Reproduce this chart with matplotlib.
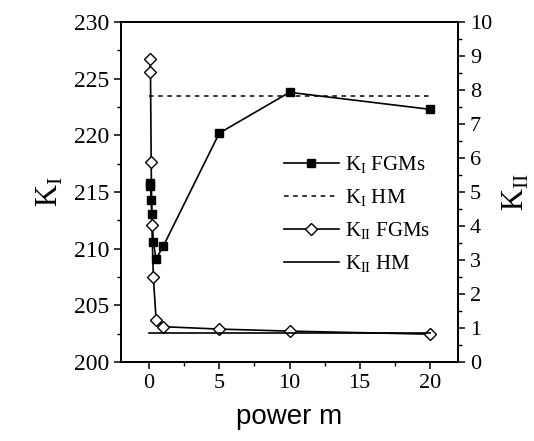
import numpy as np
import matplotlib
matplotlib.use("Agg")
import matplotlib.pyplot as plt
from matplotlib.ticker import MultipleLocator

# данные
power_m = [0.05, 0.1, 0.15, 0.2, 0.3, 0.5, 1, 5, 10, 20]
k1_fgm = [215.8, 215.5, 214.3, 213.1, 210.6, 209.1, 210.2, 220.2, 223.8, 222.3]
k2_fgm = [8.9, 8.54, 5.88, 4.03, 2.51, 1.25, 1.04, 0.97, 0.91, 0.82]
hm_x = [0, 20]
k1_hm = [223.5, 223.5]
k2_hm = [0.86, 0.86]

plt.rcParams['font.family'] = ['Liberation Serif', 'DejaVu Serif']
plt.rcParams['mathtext.fontset'] = 'custom'
plt.rcParams['mathtext.rm'] = 'Liberation Serif'

fig = plt.figure(figsize=(5.34, 4.41), dpi=100)
ax = fig.add_axes([0.2266, 0.179, 0.6311, 0.771])
ax2 = ax.twinx()

l1, = ax.plot(power_m, k1_fgm, color='black', lw=1.2, marker='s', ms=6,
              mfc='black', label=r'K$_\mathregular{I}$ FGMs')
l2, = ax.plot(hm_x, k1_hm, color='black', lw=1.1, ls=(0, (3, 3)),
              label=r'K$_\mathregular{I}$ HM')
l3, = ax2.plot(power_m, k2_fgm, color='black', lw=1.2, marker='D', ms=6,
               mfc='white', mew=1.0, label=r'K$_\mathregular{II}$ FGMs')
l4, = ax2.plot(hm_x, k2_hm, color='black', lw=1.2,
               label=r'K$_\mathregular{II}$ HM')

ax.set_xlim(-2, 22)
ax.set_ylim(200, 230)
ax2.set_ylim(0, 10)

ax.xaxis.set_major_locator(MultipleLocator(5))
ax.xaxis.set_minor_locator(MultipleLocator(2.5))
ax.yaxis.set_major_locator(MultipleLocator(5))
ax.yaxis.set_minor_locator(MultipleLocator(2.5))
ax2.yaxis.set_major_locator(MultipleLocator(1))
ax2.yaxis.set_minor_locator(MultipleLocator(0.5))

for a in (ax, ax2):
    a.tick_params(which='major', direction='out', length=5, width=1.1,
                  labelsize=16)
    a.tick_params(which='minor', direction='out', length=3, width=1.0)
    for s in a.spines.values():
        s.set_linewidth(1.3)
ax.tick_params(axis='y', labelsize=17)

ax.set_ylabel(r'K$_\mathregular{I}$', fontsize=22, labelpad=6)
ax2.set_ylabel(r'K$_\mathregular{II}$', fontsize=22, labelpad=6)
ax.set_xlabel('power m', fontsize=20, family='Liberation Sans', labelpad=8)

ax.legend(handles=[l1, l2, l3, l4], loc='upper left',
          bbox_to_anchor=(0.46, 0.635), frameon=False, fontsize=15,
          numpoints=1, handlelength=2.6, handletextpad=0.3,
          labelspacing=0.55, borderaxespad=0)

fig.savefig('out.png', dpi=100)
